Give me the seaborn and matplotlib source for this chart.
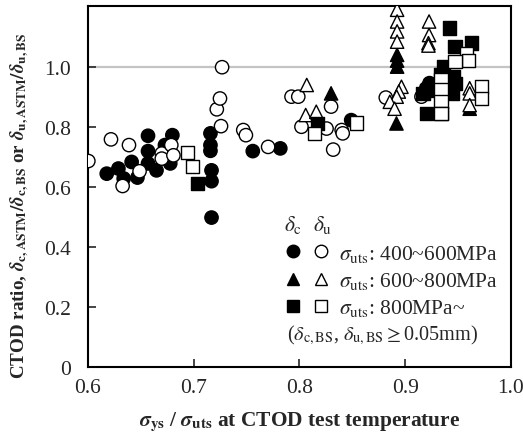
import numpy as np
import pandas as pd
import matplotlib
matplotlib.use("Agg")
import matplotlib.pyplot as plt
import seaborn as sns
from matplotlib.lines import Line2D
from matplotlib.legend_handler import HandlerTuple

# ---------------- data ----------------
# sigma_uts 400~600 MPa (circles)
c1_x = [0.618, 0.629, 0.634, 0.6415, 0.647, 0.657, 0.657, 0.657, 0.665, 0.673, 0.680, 0.678, 0.676,
        0.716, 0.716, 0.716, 0.717, 0.717, 0.717, 0.756, 0.782, 0.849, 0.920, 0.923]
c1_y = [0.644, 0.661, 0.628, 0.683, 0.631, 0.770, 0.719, 0.678, 0.655, 0.739, 0.772, 0.678, 0.690,
        0.778, 0.739, 0.720, 0.655, 0.619, 0.498, 0.719, 0.728, 0.822, 0.928, 0.945]
u1_x = [0.6006, 0.622, 0.633, 0.639, 0.649, 0.670, 0.670, 0.679, 0.681, 0.722, 0.725, 0.726, 0.727,
        0.747, 0.7495, 0.7705, 0.7926, 0.799, 0.830, 0.802, 0.8257, 0.840, 0.841, 0.832, 0.8817, 0.9154]
u1_y = [0.686, 0.758, 0.603, 0.739, 0.652, 0.711, 0.694, 0.739, 0.705, 0.858, 0.894, 0.802, 0.998,
        0.789, 0.772, 0.733, 0.900, 0.900, 0.867, 0.800, 0.794, 0.789, 0.778, 0.724, 0.897, 0.900]
# sigma_uts 600~800 MPa (triangles)
c2_x = [0.830, 0.8918, 0.8924, 0.8924, 0.8924, 0.961]
c2_y = [0.911, 0.811, 1.039, 1.020, 1.000, 0.860]
u2_x = [0.807, 0.806, 0.816, 0.8924, 0.8924, 0.8924, 0.8924, 0.8965, 0.894, 0.892, 0.8855, 0.890,
        0.9226, 0.9226, 0.922, 0.922, 0.961, 0.961, 0.961]
u2_y = [0.939, 0.839, 0.850, 1.189, 1.150, 1.117, 1.083, 0.933, 0.917, 0.900, 0.883, 0.860,
        1.150, 1.105, 1.078, 1.070, 0.928, 0.911, 0.872]
# sigma_uts 800 MPa~ (squares)
c3_x = [0.704, 0.817, 0.942, 0.947, 0.9626, 0.936, 0.934, 0.946, 0.947, 0.945, 0.920, 0.920, 0.917]
c3_y = [0.611, 0.811, 1.128, 1.067, 1.078, 1.000, 0.972, 0.967, 0.944, 0.911, 0.844, 0.920, 0.911]
u3_x = [0.694, 0.699, 0.8146, 0.854, 0.958, 0.960, 0.947, 0.934, 0.934, 0.934, 0.934, 0.934, 0.972, 0.972]
u3_y = [0.714, 0.667, 0.778, 0.813, 1.044, 1.020, 1.017, 0.955, 0.922, 0.883, 0.844, 0.844, 0.933, 0.894]

x_ticks = [0.6, 0.7, 0.8, 0.9, 1.0]
x_ticklabels = ["0.6", "0.7", "0.8", "0.9", "1.0"]
y_ticks = [0, 0.2, 0.4, 0.6, 0.8, 1.0]
y_ticklabels = ["0", "0.2", "0.4", "0.6", "0.8", "1.0"]
legend_labels = [r"$\sigma_{\rm uts}$: 400~600MPa",
                 r"$\sigma_{\rm uts}$: 600~800MPa",
                 r"$\sigma_{\rm uts}$: 800MPa~"]

frames = []
for xs, ys, d, g in [(c1_x, c1_y, "c", "g1"), (u1_x, u1_y, "u", "g1"),
                     (c2_x, c2_y, "c", "g2"), (u2_x, u2_y, "u", "g2"),
                     (c3_x, c3_y, "c", "g3"), (u3_x, u3_y, "u", "g3")]:
    frames.append(pd.DataFrame({"x": xs, "y": ys, "delta": d, "grade": g}))
df = pd.concat(frames, ignore_index=True)

# ---------------- style ----------------
sns.set_style("ticks")
plt.rcParams["font.family"] = ["Liberation Serif", "DejaVu Serif"]
plt.rcParams["mathtext.fontset"] = "stix"
FS = 15.5

fig = plt.figure(figsize=(5.23, 4.39), dpi=100)
ax = fig.add_axes([0.1677, 0.161, 0.8093, 0.822])

ax.axhline(1.0, color="#c4c4c4", lw=1.6, zorder=0)

sns.scatterplot(data=df, x="x", y="y", hue="delta", style="grade",
                palette={"c": "black", "u": "white"},
                markers={"g1": "o", "g2": "^", "g3": "s"},
                s=92, edgecolor="black", linewidth=1.0, legend=False, ax=ax, zorder=3)

ax.set_xlim(0.6, 1.0)
ax.set_ylim(0, 1.2)
ax.set_xticks(x_ticks)
ax.set_xticklabels(x_ticklabels, fontsize=FS)
ax.set_yticks(y_ticks)
ax.set_yticklabels(y_ticklabels, fontsize=FS)
ax.tick_params(direction="in", length=6, width=1.2)
ax.tick_params(axis="x", pad=8)
ax.tick_params(axis="y", pad=12)
for sp in ax.spines.values():
    sp.set_linewidth(1.5)
    sp.set_color("black")

ax.set_xlabel(r"$\boldsymbol{\sigma}_{\mathbf{ys}}$ / $\boldsymbol{\sigma}_{\mathbf{uts}}$ at CTOD test temperature",
              fontsize=15.4, fontweight="bold")
ax.xaxis.set_label_coords(0.5, -0.115)
ax.set_ylabel(r"CTOD ratio, $\boldsymbol{\delta}_{\mathbf{c,ASTM}}\mathbf{/}\boldsymbol{\delta}_{\mathbf{c,BS}}$ or "
              r"$\boldsymbol{\delta}_{\mathbf{u,ASTM}}\mathbf{/}\boldsymbol{\delta}_{\mathbf{u,BS}}$",
              fontsize=13.7, fontweight="bold")
ax.yaxis.set_label_coords(-0.135, 0.45)

# ---------------- legend ----------------
mk = ["o", "^", "s"]
handles = []
for m in mk:
    ms = 9 if m != "s" else 8.5
    handles.append((Line2D([], [], ls="", marker=m, ms=ms, mfc="black", mec="black"),
                    Line2D([], [], ls="", marker=m, ms=ms, mfc="white", mec="black")))
leg = ax.legend(handles, legend_labels, handler_map={tuple: HandlerTuple(ndivide=None, pad=0.55)},
                loc="upper left", bbox_to_anchor=(0.465, 0.345), frameon=False, fontsize=FS,
                handlelength=2.1, handletextpad=0.42, labelspacing=0.29, borderpad=0, borderaxespad=0)
ax.text(0.485, 0.397, r"$\delta_{\rm c}$", transform=ax.transAxes, fontsize=FS, ha="center", va="center")
ax.text(0.554, 0.397, r"$\delta_{\rm u}$", transform=ax.transAxes, fontsize=FS, ha="center", va="center")
ax.text(0.47, 0.092, r"($\delta_{\rm c,BS}$, $\delta_{\rm u,BS}$$\geq$0.05mm)", transform=ax.transAxes,
        fontsize=14.6, ha="left", va="center")

fig.savefig("out.png", dpi=100)
